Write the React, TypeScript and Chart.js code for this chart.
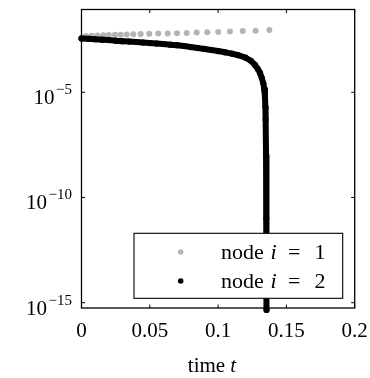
import React, { useEffect, useRef } from "react";
import { Chart, registerables } from "chart.js";

Chart.register(...registerables);

// ---- data ----
const timesNode1 = [0, 0.0033, 0.0075, 0.0116, 0.016, 0.02, 0.0245, 0.0287, 0.0331, 0.0379, 0.0433, 0.0496, 0.0562, 0.0631, 0.0699, 0.077, 0.0843, 0.0921, 0.1001, 0.1087, 0.118, 0.1275, 0.1375];
const valuesNode1 = [0.00398, 0.004677, 0.004898, 0.005012, 0.005129, 0.005248, 0.00537, 0.005495, 0.005623, 0.005754, 0.005888, 0.006026, 0.006166, 0.00631, 0.006457, 0.006607, 0.006918, 0.007079, 0.007413, 0.007762, 0.008128, 0.008511, 0.00912];

const timesNode2 = [0, 0.005, 0.01, 0.015, 0.02, 0.025, 0.03, 0.035, 0.04, 0.045, 0.05, 0.055, 0.06, 0.065, 0.07, 0.075, 0.08, 0.085, 0.09, 0.095, 0.1, 0.105, 0.11, 0.115, 0.12, 0.124, 0.127, 0.129, 0.1307, 0.132, 0.1331, 0.1338, 0.1343, 0.1346, 0.1348, 0.1351, 0.1353, 0.1354, 0.1355];
const valuesNode2 = [0.003631, 0.003467, 0.003311, 0.003162, 0.00302, 0.002851, 0.002692, 0.00257, 0.002455, 0.002317, 0.002188, 0.002065, 0.00195, 0.001841, 0.001738, 0.001585, 0.001413, 0.001274, 0.001148, 0.001023, 0.000912, 0.000794, 0.000692, 0.000575, 0.000447, 0.000316, 0.0002, 1.318e-4, 8.32e-5, 4.79e-5, 2.69e-5, 1.41e-5, 6.17e-6, 2.0e-6, 5.0e-7, 1e-8, 1e-11, 1e-14, 4.5e-16];

const xTicks = [0, 0.05, 0.1, 0.15, 0.2];
const xTickLabels = ["0", "0.05", "0.1", "0.15", "0.2"];
const yTicks = [1e-15, 1e-10, 1e-5];
const yTickExponents = ["\u221215", "\u221210", "\u22125"];
const legendNodes = ["1", "2"];
const xMin = 0;
const xMax = 0.2;
const yMin = 5.6e-16;
const yMax = 0.0861;

const GRAY = "#b4b4b4";
const FONT = "'Liberation Serif', 'Times New Roman', serif";

const decorPlugin = {
  id: "decor",
  afterDraw(chart: any) {
    const { ctx, chartArea: a, scales } = chart;
    const xs = scales.x;
    const ys = scales.y;
    ctx.save();
    // legend box
    const lx = 134, ly = 233.3, lw = 342.7 - 134, lh = 298.3 - 233.3;
    ctx.fillStyle = "#ffffff";
    ctx.fillRect(lx, ly, lw, lh);
    ctx.strokeStyle = "#000";
    ctx.lineWidth = 1.1;
    ctx.strokeRect(lx, ly, lw, lh);
    const rows = [
      { color: GRAY, y: 252, base: 259.3 },
      { color: "#000", y: 281, base: 288.3 },
    ];
    rows.forEach((r, i) => {
      ctx.fillStyle = r.color;
      ctx.beginPath();
      ctx.arc(180.7, r.y, 2.8, 0, Math.PI * 2);
      ctx.fill();
      ctx.fillStyle = "#000";
      ctx.textBaseline = "alphabetic";
      ctx.textAlign = "left";
      ctx.font = `22px ${FONT}`;
      ctx.fillText("node", 221, r.base);
      ctx.textAlign = "center";
      ctx.font = `italic 22px ${FONT}`;
      ctx.fillText("i", 273.5, r.base);
      ctx.font = `22px ${FONT}`;
      ctx.fillText("=", 294.3, r.base);
      ctx.fillText(legendNodes[i], 320, r.base);
    });

    // frame
    ctx.strokeStyle = "#000";
    ctx.lineWidth = 1.3;
    ctx.strokeRect(a.left, a.top, a.right - a.left, a.bottom - a.top);
    // ticks
    ctx.lineWidth = 1;
    const tl = 3.5;
    xTicks.forEach((v) => {
      const px = xs.getPixelForValue(v);
      ctx.beginPath();
      ctx.moveTo(px, a.bottom);
      ctx.lineTo(px, a.bottom - tl);
      ctx.moveTo(px, a.top);
      ctx.lineTo(px, a.top + tl);
      ctx.stroke();
    });
    yTicks.forEach((v) => {
      const py = ys.getPixelForValue(v);
      ctx.beginPath();
      ctx.moveTo(a.left, py);
      ctx.lineTo(a.left + tl, py);
      ctx.moveTo(a.right, py);
      ctx.lineTo(a.right - tl, py);
      ctx.stroke();
    });
    // x tick labels
    ctx.fillStyle = "#000";
    ctx.font = `21px ${FONT}`;
    ctx.textAlign = "center";
    ctx.textBaseline = "alphabetic";
    xTicks.forEach((v, i) => {
      ctx.fillText(xTickLabels[i], xs.getPixelForValue(v), 336.7);
    });
    // y tick labels (10^exp)
    yTicks.forEach((v, i) => {
      const py = ys.getPixelForValue(v);
      ctx.font = `15px ${FONT}`;
      ctx.textAlign = "right";
      const ew = ctx.measureText(yTickExponents[i]).width;
      ctx.fillText(yTickExponents[i], 72, py + 2);
      ctx.font = `21px ${FONT}`;
      ctx.fillText("10", 72 - ew - 1.5, py + 12);
    });
    // x title "time t"
    ctx.font = `21px ${FONT}`;
    const w1 = ctx.measureText("time ").width;
    ctx.font = `italic 21px ${FONT}`;
    const w2 = ctx.measureText("t").width;
    const start = 212 - (w1 + w2) / 2;
    ctx.textAlign = "left";
    ctx.font = `21px ${FONT}`;
    ctx.fillText("time ", start, 371.7);
    ctx.font = `italic 21px ${FONT}`;
    ctx.fillText("t", start + w1, 371.7);
    ctx.restore();
  },
};

export default function App() {
  const ref = useRef<HTMLCanvasElement | null>(null);
  useEffect(() => {
    if (!ref.current) return;
    const chart = new Chart(ref.current, {
      type: "line",
      data: {
        datasets: [
          {
            label: "node i = 2",
            data: timesNode2.map((t, i) => ({ x: t, y: valuesNode2[i] })),
            showLine: true,
            borderColor: "#000",
            borderWidth: 6,
            borderCapStyle: "round",
            borderJoinStyle: "round",
            pointRadius: 3.1,
            pointBackgroundColor: "#000",
            pointBorderWidth: 0,
            clip: false as any,
            order: 1,
          },
          {
            label: "node i = 1",
            data: timesNode1.map((t, i) => ({ x: t, y: valuesNode1[i] })),
            showLine: false,
            pointRadius: 3,
            pointBackgroundColor: GRAY,
            pointBorderWidth: 0,
            borderColor: GRAY,
            order: 2,
          },
        ],
      },
      options: {
        animation: false,
        responsive: true,
        maintainAspectRatio: false,
        devicePixelRatio: 1,
        events: [],
        layout: { padding: { left: 0, top: 9.5, right: 15.3, bottom: 0 } },
        plugins: { legend: { display: false }, tooltip: { enabled: false } },
        scales: {
          x: {
            type: "linear",
            min: xMin,
            max: xMax,
            ticks: { display: false },
            grid: { display: false },
            border: { display: false },
            afterFit: (s: any) => {
              s.height = 70;
            },
          },
          y: {
            type: "logarithmic",
            min: yMin,
            max: yMax,
            ticks: { display: false },
            grid: { display: false },
            border: { display: false },
            afterFit: (s: any) => {
              s.width = 81.5;
            },
          },
        },
      },
      plugins: [decorPlugin],
    });
    return () => chart.destroy();
  }, []);
  return (
    <div style={{ position: "absolute", left: 0, top: 0, width: 370, height: 378, background: "#fff" }}>
      <canvas ref={ref} />
    </div>
  );
}
